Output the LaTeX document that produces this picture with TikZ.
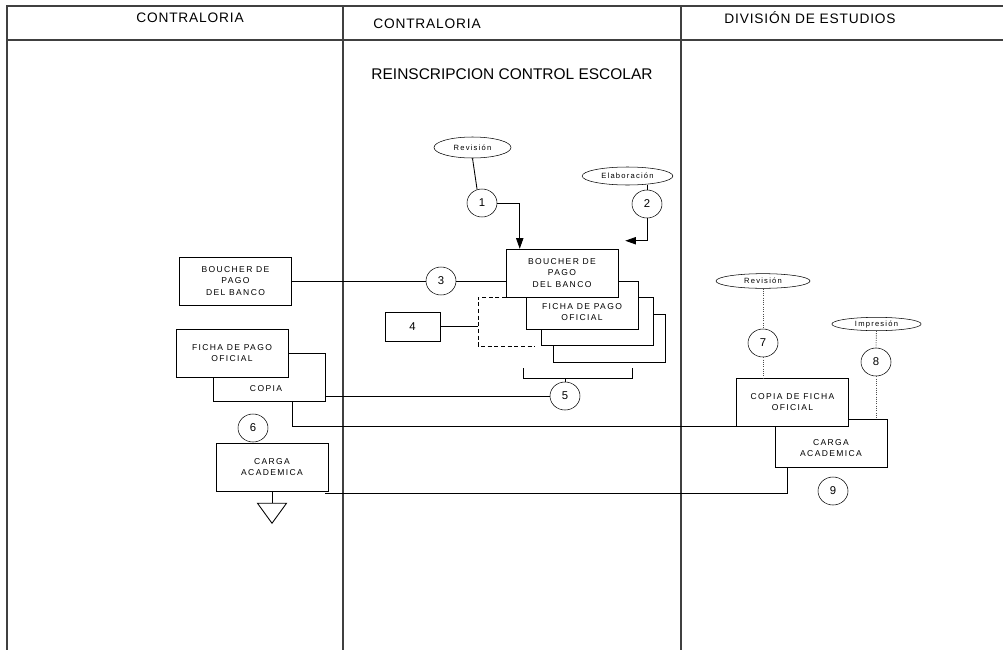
\documentclass[tikz,border=0pt]{standalone}
\usepackage{fontspec}
\setmainfont{Liberation Sans}
\newfontfamily\boxfont{Liberation Sans}[LetterSpace=16]
\newfontfamily\headfont{Liberation Sans}[LetterSpace=6]
\usetikzlibrary{shapes.geometric,arrows.meta,calc}
\tikzset{
  docbox/.style={draw, fill=white, minimum width=84pt, minimum height=36pt, inner sep=0pt,
    align=center, font=\boxfont\fontsize{6.4}{8.3}\selectfont},
  plainbox/.style={draw, fill=white, minimum width=84pt, minimum height=36pt, inner sep=0pt},
  doctext/.style={align=center, inner sep=0pt, font=\boxfont\fontsize{6.4}{8.3}\selectfont},
  stepnum/.style={draw, ellipse, fill=white, minimum width=22.5pt, minimum height=21pt, inner sep=0pt,
    font=\fontsize{8.5}{10}\selectfont},
  action/.style={draw, ellipse, inner sep=0pt, font=\boxfont\fontsize{5.7}{6}\selectfont},
  lane/.style={draw=black!75, line width=0.8pt},
  flow/.style={draw, line width=0.65pt},
  arr/.style={flow, -{Triangle[length=8pt,width=5.5pt]}},
  dots/.style={draw=black!70, densely dotted, line width=0.7pt},
}
\begin{document}
\begin{tikzpicture}[x=0.75pt, y=-0.75pt]
  \useasboundingbox (0,0) rectangle (1003,650);
  % swimlanes
  \draw[lane] (1003,6) -- (7,6) -- (7,650);
  \draw[lane] (7,40) -- (1003,40);
  \draw[lane] (343,6) -- (343,650);
  \draw[lane] (681,6) -- (681,650);
  \node[font=\headfont\fontsize{10.3}{11}\selectfont] (lane1) at (190,18) {CONTRALORIA};
  \node[font=\headfont\fontsize{10.3}{11}\selectfont] (lane2) at (427,24) {CONTRALORIA};
  \node[font=\headfont\fontsize{10.3}{11}\selectfont] (lane3) at (810,18) {DIVISIÓN DE ESTUDIOS};
  \node[font=\fontsize{11.6}{13}\selectfont] (title) at (512,74) {REINSCRIPCION CONTROL ESCOLAR};

  % left lane
  \node[docbox] (bouL) at (235.5,281) {BOUCHER DE\\PAGO\\DEL BANCO};
  \node[plainbox] (copiaL) at (269,377.5) {};
  \node[docbox] (fichaL) at (232,353) {FICHA DE PAGO\\OFICIAL};
  \node[doctext] (copiaTxt) at (266,389) {COPIA};
  \node[stepnum] (c6) at (253,428) {6};
  \node[docbox] (cargaL) at (272,467) {CARGA\\ACADEMICA};

  % middle lane
  \node[action, minimum width=57.75pt, minimum height=15.75pt] (rev1) at (472.5,147.5) {Revisión};
  \node[action, minimum width=68pt, minimum height=13.5pt] (elab) at (627.5,176) {Elaboración};
  \node[stepnum] (c1) at (482,203) {1};
  \node[stepnum] (c2) at (647,204) {2};
  \draw[flow, densely dashed, line width=0.5pt] (506,297) coordinate (dTR) -- ++(-28,0) coordinate (dTL)
    -- ++(0,49) coordinate (dBL) -- ++(57,0);
  \node[plainbox] (d4) at (609,338) {};
  \node[plainbox] (d3) at (597.5,321.5) {};
  \node[plainbox] (d2) at (582.5,305.5) {};
  \node[docbox] (d1) at (562,273) {BOUCHER DE\\PAGO\\DEL BANCO};
  \node[doctext] (fichaTxt) at (582,312) {FICHA DE PAGO\\OFICIAL};
  \node[stepnum] (c3) at (441,281) {3};
  \node[draw, minimum width=41.25pt, minimum height=21.75pt, inner sep=0pt,
    font=\fontsize{8.5}{10}\selectfont] (box4) at (412.5,326.5) {4};
  \coordinate (brL) at (523,378);
  \coordinate (brR) at (632,378);
  \node[stepnum] (c5) at (565,396) {5};

  % right lane
  \node[action, minimum width=70.5pt, minimum height=11pt] (rev2) at (763,281) {Revisión};
  \node[action, minimum width=67pt, minimum height=10pt] (impr) at (876.5,324) {Impresión};
  \node[stepnum] (c7) at (763,343) {7};
  \node[stepnum] (c8) at (876,362) {8};
  \node[plainbox] (cargaR) at (831,443.5) {};
  \node[docbox] (copiaR) at (792.5,402.5) {COPIA DE FICHA\\OFICIAL};
  \node[doctext] (cargaTxt) at (831,448) {CARGA\\ACADEMICA};
  \node[stepnum] (c9) at (833,491) {9};

  % connectors
  \begin{scope}[flow]
    \draw (rev1.south) -- (c1.110);
    \draw (c2.north |- elab.south) -- (c2.north);
    \draw[arr] (c1.east) -| ($(d1.north west)+(14,0)$);
    \draw[arr] (c2.south) |- ($(d1.north east)+(7,-8)$);
    \draw (bouL.east) -- (c3.west);
    \draw (c3.east) -- (c3.east -| d1.west);
    \draw (box4.east) -- (box4.east -| dTL);
    \draw ($(brL)+(0,-10)$) -- (brL) -- (brR) -- ++(0,-10);
    \draw (c5.north |- brL) -- (c5.north);
    \draw (c5.west -| copiaL.east) -- (c5.west);
    \draw ($(copiaL.south east)+(-33,0)$) |- (copiaR.south west);
    \draw (cargaL.south) -- ++(0,12) coordinate (tri);
    \draw (tri) ++(-14.5,0) -- ++(29,0) -- ++(-14.5,20) -- cycle;
    \draw ($(cargaL.south east)+(-3,2)$) -| ($(cargaR.south west)+(13,0)$);
  \end{scope}
  \begin{scope}[dots]
    \draw (rev2.south) -- (c7.north);
    \draw (c7.south) -- (c7.south |- copiaR.north);
    \draw (impr.south) -- (c8.north);
    \draw (c8.south) -- (c8.south |- cargaR.north);
  \end{scope}
\end{tikzpicture}
\end{document}
